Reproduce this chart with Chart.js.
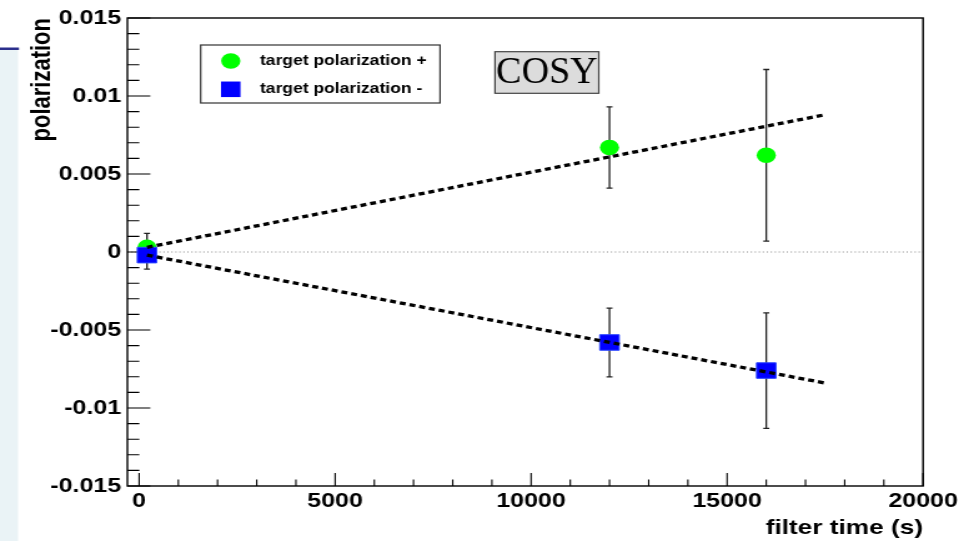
<!DOCTYPE html>
<html>
<head>
<meta charset="utf-8">
<script src="https://cdn.jsdelivr.net/npm/chart.js@4/dist/chart.umd.min.js"></script>
<style>
    html, body { margin: 0; padding: 0; background: #fff; overflow: hidden; }
    /* the original plot is stretched sideways, so the canvas is too */
    #wrap { position: absolute; left: 0; top: 0; width: 780px; height: 541px;
            transform: scaleX(1.24872); transform-origin: 0 0; }
</style>
</head>
<body>
<div id="wrap"><canvas id="polarization-chart"></canvas></div>
<script>
// measurements
const filter_times = [200, 12000, 16000];
const pol_plus = [0.0003, 0.0067, 0.0062];
const pol_plus_err = [0.0009, 0.0026, 0.0055];
const pol_minus = [-0.0002, -0.0058, -0.0076];
const pol_minus_err = [0.0009, 0.0022, 0.0037];

// straight line fits (start, end)
const fit_times = [200, 17500];
const fit_plus = [0.0003, 0.0088];
const fit_minus = [-0.0002, -0.0084];

// axes
const x_range = [-300, 20000];
const x_major_ticks = [0, 5000, 10000, 15000, 20000];
const x_tick_labels = ['0', '5000', '10000', '15000', '20000'];
const x_minor_step = 1000;
const y_range = [-0.015, 0.015];
const y_major_ticks = [-0.015, -0.01, -0.005, 0, 0.005, 0.01, 0.015];
const y_tick_labels = ['-0.015', '-0.01', '-0.005', '0', '0.005', '0.01', '0.015'];
const y_minor_step = 0.001;

const S = 974 / 780; // horizontal stretch of the page

const sans = '"Liberation Sans", Arial, sans-serif';

function is_major(value, majors) {
    return majors.findIndex(m => Math.abs(m - value) < 1e-9);
}

function points(xs, ys) {
    return xs.map((x, i) => ({x: x, y: ys[i]}));
}

const root_style = {
    id: 'root_style',
    beforeDraw(chart) {
        const ctx = chart.ctx;
        ctx.save();
        ctx.fillStyle = '#fff';
        ctx.fillRect(0, 0, chart.width, chart.height);
        // slide margin on the left
        ctx.fillStyle = '#eaf3f6';
        ctx.fillRect(0, 50, 18 / S, chart.height - 50);
        ctx.fillStyle = '#2b2f8c';
        ctx.fillRect(0, 47.5, 19 / S, 2.5);
        ctx.restore();
    },
    beforeDatasetsDraw(chart) {
        const {ctx, chartArea: a, scales: {x, y}} = chart;
        ctx.save();

        // dotted zero line
        const y0 = y.getPixelForValue(0);
        ctx.strokeStyle = '#8a8a8a';
        ctx.lineWidth = 1;
        ctx.setLineDash([1, 2.2]);
        ctx.beginPath();
        ctx.moveTo(a.left, y0);
        ctx.lineTo(a.right, y0);
        ctx.stroke();
        ctx.setLineDash([]);

        // frame
        ctx.strokeStyle = '#000';
        ctx.lineWidth = 1.4;
        ctx.strokeRect(a.left, a.top, a.right - a.left, a.bottom - a.top);

        // ticks pointing inwards
        ctx.lineWidth = 1.1;
        ctx.beginPath();
        y.ticks.forEach(t => {
            const py = y.getPixelForValue(t.value);
            const len = is_major(t.value, y_major_ticks) >= 0 ? 18.4 : 9.6;
            ctx.moveTo(a.left, py);
            ctx.lineTo(a.left + len, py);
        });
        x.ticks.forEach(t => {
            const px = x.getPixelForValue(t.value);
            const len = is_major(t.value, x_major_ticks) >= 0 ? 13 : 6.5;
            ctx.moveTo(px, a.bottom);
            ctx.lineTo(px, a.bottom - len);
        });
        ctx.stroke();

        // error bars
        ctx.strokeStyle = '#222';
        ctx.lineWidth = 1.3;
        [[pol_plus, pol_plus_err], [pol_minus, pol_minus_err]].forEach(([vals, errs]) => {
            vals.forEach((v, i) => {
                const px = x.getPixelForValue(filter_times[i]);
                const top = y.getPixelForValue(v + errs[i]);
                const bot = y.getPixelForValue(v - errs[i]);
                ctx.beginPath();
                ctx.moveTo(px, top);
                ctx.lineTo(px, bot);
                ctx.moveTo(px - 2.4, top);
                ctx.lineTo(px + 2.4, top);
                ctx.moveTo(px - 2.4, bot);
                ctx.lineTo(px + 2.4, bot);
                ctx.stroke();
            });
        });
        ctx.restore();
    },
    afterDraw(chart) {
        const ctx = chart.ctx;
        ctx.save();

        // legend box
        const lx = 160.7, ly = 45, lw = 191.7, lh = 58;
        ctx.fillStyle = '#fff';
        ctx.fillRect(lx, ly, lw, lh);
        ctx.strokeStyle = '#333';
        ctx.lineWidth = 1.2;
        ctx.strokeRect(lx, ly, lw, lh);
        const rows = chart.data.datasets.filter(d => d.in_legend);
        rows.forEach((d, i) => {
            const cy = ly + 16 + i * 28.3;
            const cx = lx + 24.1;
            ctx.fillStyle = d.backgroundColor;
            ctx.beginPath();
            if (d.pointStyle === 'circle') {
                ctx.arc(cx, cy, d.pointRadius, 0, Math.PI * 2);
            } else {
                const h = d.pointRadius * Math.SQRT1_2;
                ctx.rect(cx - h, cy - h, 2 * h, 2 * h);
            }
            ctx.fill();
            ctx.fillStyle = '#000';
            ctx.font = 'bold 14px ' + sans;
            ctx.textBaseline = 'middle';
            ctx.textAlign = 'left';
            ctx.fillText(d.label, lx + 47.5, cy);
        });

        // COSY label, drawn unstretched
        const bx = 396.4, by = 51.7, bw = 83.1, bh = 41.6;
        ctx.fillStyle = '#dcdcdc';
        ctx.fillRect(bx, by, bw, bh);
        ctx.strokeStyle = '#444';
        ctx.lineWidth = 1.2;
        ctx.strokeRect(bx, by, bw, bh);
        ctx.translate(bx + bw / 2, by + bh / 2 + 1);
        ctx.scale(1 / S, 1);
        ctx.fillStyle = '#000';
        ctx.font = '38px "Liberation Serif", "Times New Roman", serif';
        ctx.textAlign = 'center';
        ctx.textBaseline = 'middle';
        ctx.fillText('COSY', 0, 0);
        ctx.restore();
    }
};

const graph_config = {
    type: 'scatter',
    data: {
        datasets: [{
            label: 'fit +',
            data: points(fit_times, fit_plus),
            showLine: true,
            borderColor: '#000',
            borderWidth: 3.3,
            borderDash: [4.8, 3.2],
            pointRadius: 0,
            order: 0
        }, {
            label: 'fit -',
            data: points(fit_times, fit_minus),
            showLine: true,
            borderColor: '#000',
            borderWidth: 3.3,
            borderDash: [4.8, 3.2],
            pointRadius: 0,
            order: 0
        }, {
            label: 'target polarization +',
            data: points(filter_times, pol_plus),
            pointStyle: 'circle',
            pointRadius: 7.7,
            backgroundColor: '#00ff00',
            borderColor: '#00ff00',
            borderWidth: 0,
            in_legend: true,
            order: 2
        }, {
            label: 'target polarization -',
            data: points(filter_times, pol_minus),
            pointStyle: 'rect',
            pointRadius: 11,
            backgroundColor: '#0000ff',
            borderColor: '#2a45ff',
            borderWidth: 1,
            in_legend: true,
            order: 1
        }]
    },
    options: {
        responsive: true,
        maintainAspectRatio: false,
        animation: false,
        events: [],
        layout: {
            padding: {left: 0, right: 40.8, top: 18, bottom: 0}
        },
        plugins: {
            legend: {display: false},
            tooltip: {enabled: false}
        },
        scales: {
            x: {
                type: 'linear',
                position: 'bottom',
                min: x_range[0],
                max: x_range[1],
                grid: {display: false, drawTicks: false},
                border: {display: false},
                afterBuildTicks: scale => {
                    const list = [];
                    for (let v = x_major_ticks[0]; v <= x_range[1]; v += x_minor_step) {
                        list.push({value: v});
                    }
                    scale.ticks = list;
                },
                afterFit: scale => { scale.height = 55; },
                ticks: {
                    autoSkip: false,
                    maxRotation: 0,
                    padding: 3,
                    color: '#000',
                    font: {family: sans, size: 20, weight: 'bold'},
                    callback: value => {
                        const k = is_major(value, x_major_ticks);
                        return k < 0 ? '' : x_tick_labels[k];
                    }
                },
                title: {
                    display: true,
                    text: 'filter time (s)',
                    align: 'end',
                    color: '#000',
                    padding: {top: 0, bottom: 0},
                    font: {family: sans, size: 21, weight: 'bold'}
                }
            },
            y: {
                type: 'linear',
                min: y_range[0],
                max: y_range[1],
                grid: {display: false, drawTicks: false},
                border: {display: false},
                afterBuildTicks: scale => {
                    const list = [];
                    const n = Math.round((y_range[1] - y_range[0]) / y_minor_step);
                    for (let i = 0; i <= n; i++) {
                        list.push({value: y_range[0] + i * y_minor_step});
                    }
                    scale.ticks = list;
                },
                afterFit: scale => { scale.width = 102; },
                ticks: {
                    autoSkip: false,
                    padding: 5,
                    color: '#000',
                    font: {family: sans, size: 20, weight: 'bold'},
                    callback: value => {
                        const k = is_major(value, y_major_ticks);
                        return k < 0 ? '' : y_tick_labels[k];
                    }
                },
                title: {
                    display: true,
                    text: 'polarization',
                    align: 'end',
                    color: '#000',
                    padding: {top: 21, bottom: 0},
                    font: {family: sans, size: 22, weight: 'bold'}
                }
            }
        }
    },
    plugins: [root_style]
};

window.addEventListener('load', e => {
    const ctx = document.getElementById('polarization-chart').getContext('2d');
    new Chart(ctx, graph_config);
});
</script>
</body>
</html>
